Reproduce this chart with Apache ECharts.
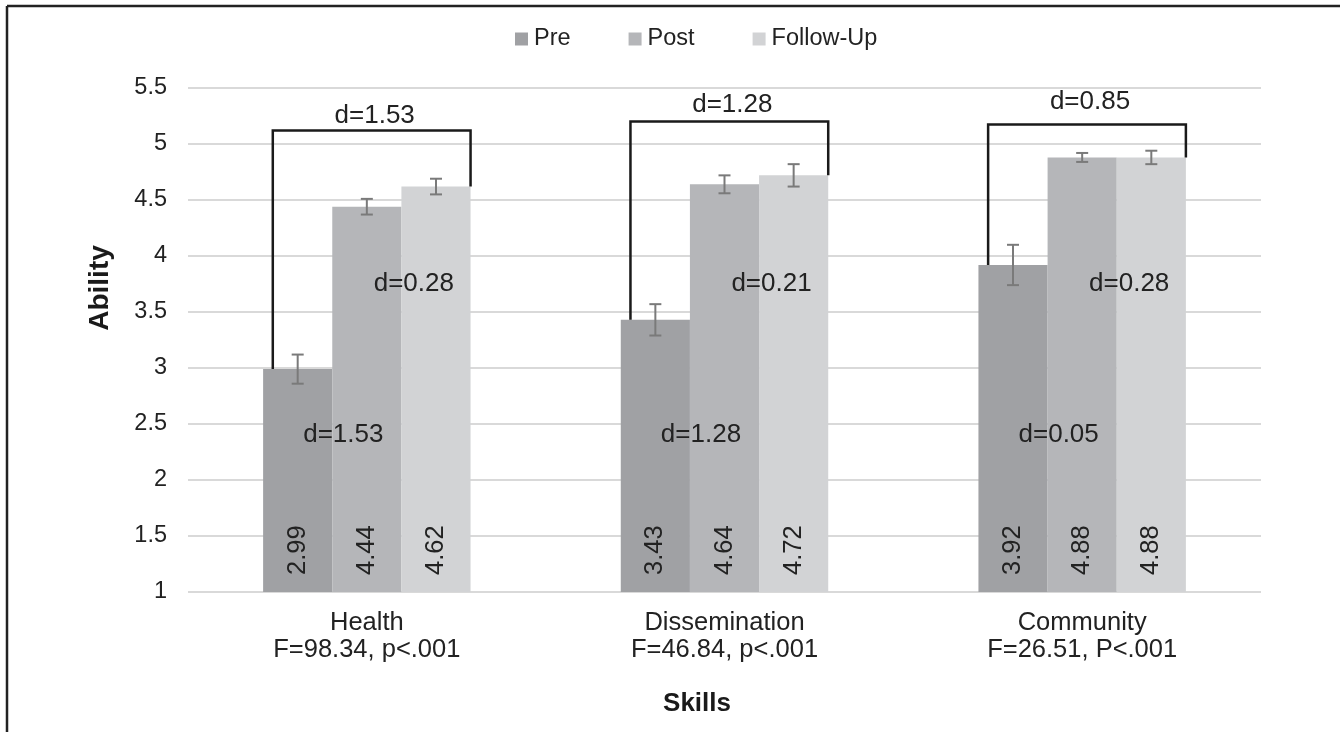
<!DOCTYPE html>
<html>
<head>
<meta charset="utf-8">
<script src="https://cdn.jsdelivr.net/npm/echarts@6/dist/echarts.min.js"></script>
<style>
html,body{margin:0;padding:0;background:#fff;}
#chart{width:1340px;height:732px;}
</style>
</head>
<body>
<div id="chart"></div>
<script>
// ---- data ----
const skills = ['Health', 'Dissemination', 'Community'];
const fStats = ['F=98.34, p<.001', 'F=46.84, p<.001', 'F=26.51, P<.001'];
const seriesNames = ['Pre', 'Post', 'Follow-Up'];
const preMeans = [2.99, 3.43, 3.92];
const postMeans = [4.44, 4.64, 4.88];
const followMeans = [4.62, 4.72, 4.88];
const preErr = [0.13, 0.14, 0.18];
const postErr = [0.07, 0.08, 0.04];
const followErr = [0.07, 0.10, 0.06];
const preFollowD = ['1.53', '1.28', '0.85'];
const prePostD = ['1.53', '1.28', '0.05'];
const postFollowD = ['0.28', '0.21', '0.28'];
const bracketTop = [5.12, 5.2, 5.175];
const bracketLabelLevel = [5.25, 5.35, 5.38];
const yTicks = { min: 1, max: 5.5, interval: 0.5 };
const innerLevels = { upper: 3.75, lower: 2.4 };

// ---- styles ----
const colors = ['#a0a1a4', '#b5b6b9', '#d2d3d5'];
const FONT = '"Liberation Sans", Arial, sans-serif';
const TXT = '#222222';
const CAT_GAP = 0.42;

const chart = echarts.init(document.getElementById('chart'));

function barW(api) {
  return api.size([1, 0])[0] * (1 - CAT_GAP) / 3;
}

const means = [preMeans, postMeans, followMeans];
const errs = [preErr, postErr, followErr];

const barSeries = seriesNames.map((name, k) => ({
  name: name,
  type: 'bar',
  data: means[k],
  barGap: '0%',
  barCategoryGap: (CAT_GAP * 100) + '%',
  itemStyle: { color: colors[k] },
  label: {
    show: true,
    position: 'insideBottom',
    rotate: 90,
    align: 'left',
    verticalAlign: 'middle',
    distance: 17,
    fontFamily: FONT,
    fontSize: 25.5,
    color: TXT,
    formatter: p => p.value.toFixed(2)
  },
  z: 2
}));

const errSeries = seriesNames.map((name, k) => ({
  type: 'custom',
  name: name + '-err',
  silent: true,
  clip: false,
  z: 5,
  data: means[k].map((v, i) => [i, v, errs[k][i]]),
  renderItem: function (params, api) {
    const i = api.value(0), v = api.value(1), e = api.value(2);
    const bw = barW(api);
    const c = api.coord([i, v]);
    const x = c[0] + (k - 1) * bw;
    const top = api.coord([i, v + e])[1];
    const bot = api.coord([i, v - e])[1];
    const cap = 6;
    const st = { stroke: '#7a7a7a', lineWidth: 2 };
    return {
      type: 'group',
      children: [
        { type: 'line', shape: { x1: x, y1: top, x2: x, y2: bot }, style: st },
        { type: 'line', shape: { x1: x - cap, y1: top, x2: x + cap, y2: top }, style: st },
        { type: 'line', shape: { x1: x - cap, y1: bot, x2: x + cap, y2: bot }, style: st }
      ]
    };
  }
}));

const bracketSeries = {
  type: 'custom',
  name: 'brackets',
  silent: true,
  clip: false,
  z: 6,
  data: skills.map((s, i) => [i, preMeans[i], followMeans[i], bracketTop[i], bracketLabelLevel[i]]),
  renderItem: function (params, api) {
    const i = api.value(0);
    const bw = barW(api);
    const cx = api.coord([i, 0])[0];
    const xl = cx - 1.36 * bw, xr = cx + 1.5 * bw;
    const yPre = api.coord([i, api.value(1)])[1];
    const yFu = api.coord([i, api.value(2)])[1];
    const yTop = api.coord([i, api.value(3)])[1];
    const yLab = api.coord([i, api.value(4)])[1];
    return {
      type: 'group',
      children: [
        { type: 'polyline', shape: { points: [[xl, yPre], [xl, yTop], [xr, yTop], [xr, yFu]] },
          style: { stroke: '#1a1a1a', lineWidth: 2.5, fill: 'none' } },
        { type: 'text', x: (xl + xr) / 2 + 3, y: yLab,
          style: { text: 'd=' + preFollowD[i], font: '26px ' + FONT, fill: TXT, align: 'center', verticalAlign: 'middle' } }
      ]
    };
  }
};

const innerSeries = {
  type: 'custom',
  name: 'innerD',
  silent: true,
  clip: false,
  z: 7,
  data: skills.map((s, i) => [i, innerLevels.upper, innerLevels.lower]),
  renderItem: function (params, api) {
    const i = api.value(0);
    const bw = barW(api);
    const cx = api.coord([i, 0])[0];
    const yU = api.coord([i, api.value(1)])[1];
    const yL = api.coord([i, api.value(2)])[1];
    return {
      type: 'group',
      children: [
        { type: 'text', x: cx + 0.68 * bw, y: yU,
          style: { text: 'd=' + postFollowD[i], font: '26px ' + FONT, fill: TXT, align: 'center', verticalAlign: 'middle' } },
        { type: 'text', x: cx - 0.34 * bw, y: yL,
          style: { text: 'd=' + prePostD[i], font: '26px ' + FONT, fill: TXT, align: 'center', verticalAlign: 'middle' } }
      ]
    };
  }
};

const option = {
  backgroundColor: '#fff',
  animation: false,
  textStyle: { fontFamily: FONT },
  legend: {
    data: seriesNames,
    left: 510,
    top: 22,
    icon: 'rect',
    itemWidth: 13,
    itemHeight: 13,
    itemGap: 58,
    textStyle: { fontFamily: FONT, fontSize: 23.5, color: TXT, padding: [0, 0, 0, 1] }
  },
  grid: { left: 188, right: 79, top: 88, bottom: 140, containLabel: false },
  xAxis: {
    type: 'category',
    data: skills,
    axisLine: { show: false },
    axisTick: { show: false },
    axisLabel: {
      margin: 17,
      fontFamily: FONT,
      fontSize: 25.5,
      color: TXT,
      lineHeight: 27,
      formatter: (v, i) => v + '\n' + fStats[i]
    }
  },
  yAxis: {
    type: 'value',
    min: yTicks.min,
    max: yTicks.max,
    interval: yTicks.interval,
    axisLine: { show: false },
    axisTick: { show: false },
    axisLabel: { margin: 21, fontFamily: FONT, fontSize: 23.5, color: TXT },
    splitLine: { lineStyle: { color: '#d9d9d9', width: 2 } }
  },
  graphic: [
    { type: 'line', shape: { x1: 7, y1: 6, x2: 1340, y2: 6 }, style: { stroke: '#222', lineWidth: 2.5 } },
    { type: 'line', shape: { x1: 7, y1: 6, x2: 7, y2: 732 }, style: { stroke: '#222', lineWidth: 2.5 } },
    { type: 'text', x: 100, y: 288, rotation: Math.PI / 2,
      style: { text: 'Ability', font: 'bold 28px ' + FONT, fill: '#1a1a1a', align: 'center', verticalAlign: 'middle' } },
    { type: 'text', x: 697, y: 704,
      style: { text: 'Skills', font: 'bold 26px ' + FONT, fill: '#1a1a1a', align: 'center', verticalAlign: 'middle' } }
  ],
  series: [...barSeries, ...errSeries, bracketSeries, innerSeries]
};
chart.setOption(option);
</script>
</body>
</html>
